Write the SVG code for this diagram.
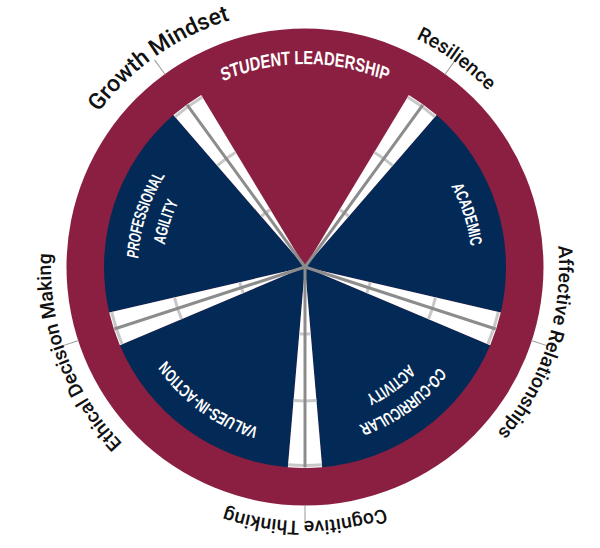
<svg xmlns="http://www.w3.org/2000/svg" width="600" height="548" viewBox="0 0 600 548">
  <style>
    .ring { fill: #8B1F41; }
    .navy { fill: #032A56; }
    .gapw { fill: #FFFFFF; }
    .tick { fill: none; stroke: #C8C8C8; stroke-width: 3; }
    .mid { stroke: #8C8C8C; stroke-width: 3; }
    .lbltick { stroke: #9A9A9A; stroke-width: 1; }
    .outer { font-family: Roboto, "Liberation Sans", Arial, sans-serif; font-weight: 500; font-size: 19.5px; fill: #111111; }
    .gm { font-size: 23px; }
    .inner { font-family: "Liberation Sans", Arial, sans-serif; font-weight: bold; font-size: 17px; fill: #FFFFFF; }
    .big { font-size: 19px; }
  </style>
  <defs>
    <path id="sector" d="M0,0 L-103.82,-172.11 A201,201 0 0 1 103.82,-172.11 Z"/>
    <g id="gap">
      <path class="gapw" d="M0,0 L-17.17,-200.27 A201,201 0 0 1 17.17,-200.27 Z"/>
      <path class="tick" d="M-5.72,-66.76 A67,67 0 0 1 5.72,-66.76"/>
      <path class="tick" d="M-11.45,-133.51 A134,134 0 0 1 11.45,-133.51"/>
      <path class="tick" d="M-16.9,-197.78 A198.5,198.5 0 0 1 16.9,-197.78"/>
      <line class="mid" x1="0" y1="0" x2="0" y2="-200.5"/>
    </g>
    <line id="ltick" class="lbltick" x1="0" y1="-238" x2="0" y2="-256"/>
    <path id="c254" d="M0,254 A254,254 0 0 1 0,-254 A254,254 0 0 1 0,254"/>
    <path id="c258" d="M0,258 A258,258 0 0 1 0,-258 A258,258 0 0 1 0,258"/>
    <!-- ellipses: rx = r / sx, used with scale(sx 1) so they become circles of radius r -->
    <path id="e_sl" d="M0,203 A262.9,203 0 0 1 0,-203 A262.9,203 0 0 1 0,203"/>
    <path id="e_ac" d="M0,167 A238.9,167 0 0 1 0,-167 A238.9,167 0 0 1 0,167"/>
    <path id="e_pr" d="M0,167 A253.8,167 0 0 1 0,-167 A253.8,167 0 0 1 0,167"/>
    <path id="e_ag" d="M0,142 A211.6,142 0 0 1 0,-142 A211.6,142 0 0 1 0,142"/>
    <path id="e_va" d="M0,167 A231.9,167 0 0 1 0,-167 A231.9,167 0 0 1 0,167"/>
    <path id="e_co" d="M0,167 A241.3,167 0 0 1 0,-167 A241.3,167 0 0 1 0,167"/>
    <path id="e_ct" d="M0,142 A203.7,142 0 0 1 0,-142 A203.7,142 0 0 1 0,142"/>
  </defs>

  <g id="outer-ring">
    <circle class="ring" cx="305" cy="267" r="238.5"/>
  </g>

  <g id="student-leadership">
    <text class="inner big" transform="translate(305 267) scale(0.772 1)"><textPath href="#e_sl" startOffset="50%" text-anchor="middle">STUDENT LEADERSHIP</textPath></text>
  </g>

  <g id="academic">
    <use href="#sector" class="navy" transform="translate(305 267) rotate(72)"/>
    <text class="inner" transform="translate(305 267) rotate(72) scale(0.699 1)"><textPath href="#e_ac" startOffset="50%" text-anchor="middle">ACADEMIC</textPath></text>
  </g>

  <g id="co-curricular-activity">
    <use href="#sector" class="navy" transform="translate(305 267) rotate(144)"/>
    <text class="inner" transform="translate(305 267) rotate(144) scale(0.692 1)"><textPath href="#e_co" startOffset="50%" text-anchor="middle">CO-CURRICULAR</textPath></text>
    <text class="inner" transform="translate(305 267) rotate(144) scale(0.697 1)"><textPath href="#e_ct" startOffset="50%" text-anchor="middle">ACTIVITY</textPath></text>
  </g>

  <g id="values-in-action">
    <use href="#sector" class="navy" transform="translate(305 267) rotate(216)"/>
    <text class="inner" transform="translate(305 267) rotate(216) scale(0.72 1)"><textPath href="#e_va" startOffset="50%" text-anchor="middle">VALUES-IN-ACTION</textPath></text>
  </g>

  <g id="professional-agility">
    <use href="#sector" class="navy" transform="translate(305 267) rotate(288)"/>
    <text class="inner" transform="translate(305 267) rotate(288) scale(0.658 1)"><textPath href="#e_pr" startOffset="50%" text-anchor="middle">PROFESSIONAL</textPath></text>
    <text class="inner" transform="translate(305 267) rotate(288) scale(0.671 1)"><textPath href="#e_ag" startOffset="50%" text-anchor="middle">AGILITY</textPath></text>
  </g>

  <g id="connectors">
    <use href="#gap" transform="translate(305 267) rotate(36)"/>
    <use href="#gap" transform="translate(305 267) rotate(108)"/>
    <use href="#gap" transform="translate(305 267) rotate(180)"/>
    <use href="#gap" transform="translate(305 267) rotate(252)"/>
    <use href="#gap" transform="translate(305 267) rotate(324)"/>
    <use href="#ltick" transform="translate(305 267) rotate(36)"/>
    <use href="#ltick" transform="translate(305 267) rotate(108)"/>
    <use href="#ltick" transform="translate(305 267) rotate(180)"/>
    <use href="#ltick" transform="translate(305 267) rotate(252)"/>
    <use href="#ltick" transform="translate(305 267) rotate(324)"/>
  </g>

  <g id="resilience">
    <text class="outer" transform="translate(305 267) rotate(36)"><textPath href="#c254" startOffset="50%" text-anchor="middle">Resilience</textPath></text>
  </g>
  <g id="affective-relationships">
    <text class="outer" transform="translate(305 267) rotate(108)"><textPath href="#c254" startOffset="50%" text-anchor="middle">Affective Relationships</textPath></text>
  </g>
  <g id="cognitive-thinking">
    <text class="outer" transform="translate(305 267) rotate(180)"><textPath href="#c254" startOffset="50%" text-anchor="middle">Cognitive Thinking</textPath></text>
  </g>
  <g id="ethical-decision-making">
    <text class="outer" transform="translate(305 267) rotate(249.5)"><textPath href="#c254" startOffset="50%" text-anchor="middle">Ethical Decision Making</textPath></text>
  </g>
  <g id="growth-mindset">
    <text class="outer gm" transform="translate(305 267) rotate(325)"><textPath href="#c258" startOffset="50%" text-anchor="middle">Growth Mindset</textPath></text>
  </g>
</svg>
